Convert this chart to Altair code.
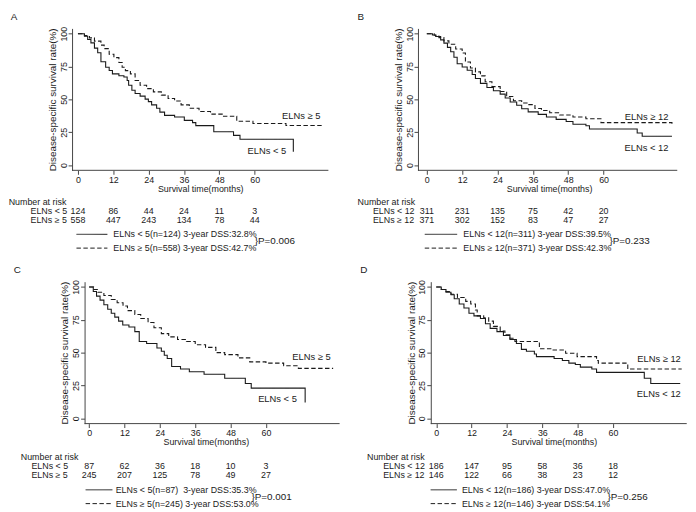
import altair as alt
import pandas as pd

FONT = "Liberation Sans"
MONTH_TICKS = [0, 12, 24, 36, 48, 60]
RISK_TIMES = [0, 12, 24, 36, 48, 60]

a_lt_t = [0, 2.2, 3.3, 4.4, 5.6, 6.7, 7.8, 9.4, 10.6, 11.7, 13.9, 15.6, 16.7, 17.2, 18.3, 19.4, 21.1,
          22.8, 23.9, 25, 26.7, 27.8, 29.4, 32.8, 36.1, 38.9, 40, 46.1, 52.8, 55, 73.1]
a_lt_s = [100, 98, 95.5, 93, 89, 85.5, 78.6, 74.4, 72, 69.4, 68, 67, 64.4, 60.7, 57, 54.5, 52.5,
          50.2, 48.3, 45.8, 43.3, 40.3, 37.8, 36.6, 34, 32.3, 30, 25.3, 22.6, 19.7, 10.2]
a_ge_t = [0, 2.2, 3.9, 5.6, 7.8, 8.9, 10.6, 12.2, 13.9, 15, 16.1, 17.8, 19.4, 21.1, 23.3, 25.6, 28.3,
          30.6, 32.8, 35, 37.8, 41.1, 45, 49.4, 53.9, 59.4, 70.6, 82.8]
a_ge_s = [100, 98.5, 96.8, 94.3, 91.3, 88.6, 84.3, 81.8, 78.1, 74.4, 71.9, 69.4, 64.4, 60.7, 58.2, 55.7,
          53.2, 50.7, 48.8, 45.8, 43.3, 40.8, 38.8, 37.1, 33.3, 31.6, 30.1, 30.1]
a_risk_lt = [124, 86, 44, 24, 11, 3]
a_risk_ge = [558, 447, 243, 134, 78, 44]
a_names = ["ELNs < 5", "ELNs \u2265 5"]
a_legend = ["ELNs < 5(n=124) 3-year DSS:32.8%", "ELNs \u2265 5(n=558) 3-year DSS:42.7%"]
a_p = "}P=0.006"

b_lt_t = [0, 1.9, 3, 4.7, 5.8, 7, 8.1, 9.2, 10.3, 12, 13.7, 15.4, 16.5, 18.2, 20.4, 22.6, 24.9, 26.6,
          28.3, 30.5, 32.2, 34.4, 37.8, 40.6, 43.9, 47.3, 49.6, 54, 55.2, 71.4, 73.1, 83.2]
b_lt_s = [100, 99, 97.8, 95.3, 92.8, 89.6, 86.3, 82, 77.1, 74.6, 72.1, 68.9, 65.9, 62.2, 59, 56.5, 54,
          51, 48, 45.5, 42.8, 40.5, 38.6, 36.6, 34.8, 33.1, 31.1, 29.9, 27.4, 24.4, 21.9, 21.9]
b_ge_t = [0, 2.5, 4.1, 5.8, 7.5, 9.8, 12, 13.1, 14.8, 16.5, 18.2, 19.8, 22.1, 24.9, 27.1, 29.4, 32.2,
          34.4, 36.7, 38.9, 41.7, 45.1, 49.6, 54, 59.1, 83.2]
b_ge_s = [100, 98.8, 97, 94.5, 92, 88.3, 85.3, 78.4, 73.9, 70.9, 67.9, 63.4, 59.7, 56, 52.2, 49, 47.3,
          46, 43, 41.5, 39.8, 38.1, 36.6, 35.3, 32.3, 31.5]
b_risk_lt = [311, 231, 135, 75, 42, 20]
b_risk_ge = [371, 302, 152, 83, 47, 27]
b_names = ["ELNs < 12", "ELNs \u2265 12"]
b_legend = ["ELNs < 12(n=311) 3-year DSS:39.5%", "ELNs \u2265 12(n=371) 3-year DSS:42.3%"]
b_p = "}P=0.233"

c_lt_t = [0, 1.4, 2.5, 3.7, 5, 6.3, 7.5, 8.7, 10, 11.4, 13.5, 15.5, 17, 19.5, 23, 24.5, 25.5, 26.5,
          28, 31, 34, 39, 46, 53, 55, 73.3]
c_lt_s = [100, 96.5, 93, 90, 86.5, 83, 80, 77, 74, 71, 69.5, 66, 58.5, 57, 53.5, 51, 48, 45.5,
          39.5, 37.5, 35.5, 33.5, 30.5, 26.5, 23, 12]
c_ge_t = [0, 1.5, 3, 5, 7.5, 9.5, 11.5, 13, 15.5, 17.5, 20, 22, 24.5, 27, 30, 33, 36, 39.5, 43, 46,
          50.5, 54.5, 60, 66, 71, 82.8]
c_ge_s = [100, 98, 96, 93.5, 90.5, 88, 85.5, 82, 79, 76, 73, 69, 64.5, 62, 60, 58.5, 56, 54, 50,
          48.5, 46, 43, 42, 40, 38, 38]
c_risk_lt = [87, 62, 36, 18, 10, 3]
c_risk_ge = [245, 207, 125, 78, 49, 27]
c_names = ["ELNs < 5", "ELNs \u2265 5"]
c_legend = ["ELNs < 5(n=87)\u00a0 3-year DSS:35.3%", "ELNs \u2265 5(n=245) 3-year DSS:53.0%"]
c_p = "}P=0.001"

d_lt_t = [0, 1.7, 3.3, 5, 6.1, 7.8, 9.4, 11.1, 12.8, 15, 16.7, 18.3, 20.6, 22.8, 25, 27.2, 28.9,
          30.6, 33.3, 34, 40, 42.8, 45, 47.2, 48.9, 52.8, 54.4, 70.6, 72.8, 82.8]
d_lt_s = [100, 98, 96, 94, 91, 87, 84, 80, 78, 76, 72, 68.5, 66, 63, 60, 57, 52.5, 51, 49, 47,
          45.5, 44, 42, 41, 39, 37.5, 35, 30.5, 26.5, 26.5]
d_ge_t = [0, 1.7, 2.8, 5, 7.2, 10, 11.7, 13.3, 13.9, 16.1, 17.8, 19.4, 21.7, 23.3, 25, 26.7, 35,
          39.4, 43.9, 47.8, 54.4, 55, 65, 83.3]
d_ge_s = [100, 98, 96.5, 94.5, 92, 89, 87, 82.5, 78, 76.5, 74, 70, 66.5, 63.5, 61, 58.5, 53, 52,
          49.5, 47, 44, 42, 37.5, 37.5]
d_risk_lt = [186, 147, 95, 58, 36, 18]
d_risk_ge = [146, 122, 66, 38, 23, 12]
d_names = ["ELNs < 12", "ELNs \u2265 12"]
d_legend = ["ELNs < 12(n=186) 3-year DSS:47.0%", "ELNs \u2265 12(n=146) 3-year DSS:54.1%"]
d_p = "}P=0.256"

XMAX = 85
PX_PER_MONTH = 2.99
YDOM = [-4, 104]
H = 144
INK = "#1a1a1a"
AXIS_INK = "#444"
DASH = [4.5, 2.5]
FS = 9

# vertical slots (in % units of the y scale) for the table rows of each figure row
TOP_ROWS = dict(nar=-27.8, r1=-35.3, r2=-42.0, l1=-52.7, l2=-63.2, p=-58.0)
BOTTOM_ROWS = dict(nar=-29.3, r1=-36.6, r2=-43.3, l1=-54.4, l2=-64.9, p=-59.6)


def panel(letter, letter_x, xmin, yoff, lt_t, lt_s, ge_t, ge_s, names, name_pos,
          risk_lt, risk_ge, nar_x, rowlab_x, legend, leg_line, leg_text_x, ptext, p_x, rows):
    width = round((XMAX - xmin) * PX_PER_MONTH, 1)
    axis_start = xmin + (-yoff) / PX_PER_MONTH
    xs = alt.Scale(domain=[xmin, XMAX], nice=False, zero=False)
    ys = alt.Scale(domain=YDOM, nice=False, zero=False)
    xax = alt.Axis(values=MONTH_TICKS, title="Survival time(months)", grid=False, domain=False,
                   tickSize=4, labelPadding=1, titlePadding=0)
    yax = alt.Axis(values=[0, 25, 50, 75, 100], title="Disease-specific survival rate(%)",
                   grid=False, tickSize=4, labelAngle=270, labelAlign="center",
                   labelBaseline="bottom", labelPadding=0, titlePadding=2, offset=yoff)
    X = alt.X("t:Q", scale=xs, axis=xax)
    Y = alt.Y("s:Q", scale=ys, axis=yax)

    def txt(df, align, size=FS):
        return alt.Chart(pd.DataFrame(df)).mark_text(
            align=align, baseline="middle", font=FONT, fontSize=size, color=INK
        ).encode(x=X, y=Y, text="txt:N")

    # x axis line, starting where the y axis sits
    xline = alt.Chart(pd.DataFrame({"t": [axis_start], "t2": [XMAX], "s": [YDOM[0]]})).mark_rule(
        color=AXIS_INK, strokeWidth=1).encode(x=X, x2=alt.X2("t2:Q"), y=Y)

    curves = pd.DataFrame(
        {"t": lt_t + ge_t, "s": lt_s + ge_s,
         "g": ["lt"] * len(lt_t) + ["ge"] * len(ge_t)})
    dash = alt.StrokeDash("g:N", scale=alt.Scale(domain=["lt", "ge"], range=[[1, 0], DASH]),
                          legend=None)
    lines = alt.Chart(curves).mark_line(interpolate="step-after", color=INK,
                                        strokeWidth=1.1).encode(x=X, y=Y, strokeDash=dash)

    letter_t = txt({"t": [letter_x], "s": [113], "txt": [letter]}, "left", 10)
    labels = txt({"t": [name_pos[1][0], name_pos[0][0]],
                  "s": [name_pos[1][1], name_pos[0][1]],
                  "txt": [names[1], names[0]]}, "right", 9.5)
    nar = txt({"t": [nar_x], "s": [rows["nar"]], "txt": ["Number at risk"]}, "left")
    rowlabs = txt({"t": [rowlab_x, rowlab_x], "s": [rows["r1"], rows["r2"]], "txt": names},
                  "left")
    risk = txt({"t": RISK_TIMES + RISK_TIMES, "s": [rows["r1"]] * 6 + [rows["r2"]] * 6,
                "txt": [str(v) for v in risk_lt + risk_ge]}, "center")

    lg_df = pd.DataFrame({"t": [leg_line[0]] * 2, "t2": [leg_line[1]] * 2,
                          "s": [rows["l1"], rows["l2"]], "g": ["lt", "ge"]})
    leglines = alt.Chart(lg_df).mark_rule(color=INK, strokeWidth=1).encode(
        x=X, x2=alt.X2("t2:Q"), y=Y, strokeDash=dash)
    legtext = txt({"t": [leg_text_x] * 2, "s": [rows["l1"], rows["l2"]], "txt": legend}, "left")
    ptxt = txt({"t": [p_x], "s": [rows["p"]], "txt": [ptext]}, "left", 10)

    return alt.layer(xline, lines, letter_t, labels, nar, rowlabs, risk, leglines, legtext,
                     ptxt).properties(width=width, height=H)


pA = panel("A", -22.8, -2.0, 0, a_lt_t, a_lt_s, a_ge_t, a_ge_s, a_names,
           [(70.7, 10.5), (82.3, 37.3)], a_risk_lt, a_risk_ge, -23.5, -16.1, a_legend,
           (-0.5, 10), 12, a_p, 60, TOP_ROWS)
pB = panel("B", -23.5, -2.0, 3, b_lt_t, b_lt_s, b_ge_t, b_ge_s, b_names,
           [(82, 13), (82, 36.5)], b_risk_lt, b_risk_ge, -23.5, -18.3, b_legend,
           (-0.7, 10.3), 12.4, b_p, 62, TOP_ROWS)
pC = panel("C", -25.6, -5.8, -12.7, c_lt_t, c_lt_s, c_ge_t, c_ge_s, c_names,
           [(70.5, 15.0), (82, 46.5)], c_risk_lt, c_risk_ge, -23.2, -19.6, c_legend,
           (-1.2, 7.9), 9, c_p, 55.1, BOTTOM_ROWS)
pD = panel("D", -25.8, -5.2, -10, d_lt_t, d_lt_s, d_ge_t, d_ge_s, d_names,
           [(83, 18.5), (83, 45.5)], d_risk_lt, d_risk_ge, -23.5, -18, d_legend,
           (-1.9, 7), 8.7, d_p, 58.1, BOTTOM_ROWS)

chart = alt.concat(pA, pB, pC, pD, columns=2,
                   spacing=alt.RowColnumber(row=12, column=17)).properties(
    padding=0).configure_view(stroke=None).configure_axis(
    labelFont=FONT, titleFont=FONT, labelFontSize=9, titleFontSize=10, labelColor=INK,
    titleColor=INK, titleFontWeight="normal", domainColor=AXIS_INK, tickColor=AXIS_INK,
    domainWidth=1, tickWidth=1).configure_axisX(titleFontSize=9)

chart.save("out.html", embed_options={"renderer": "svg", "actions": False})
